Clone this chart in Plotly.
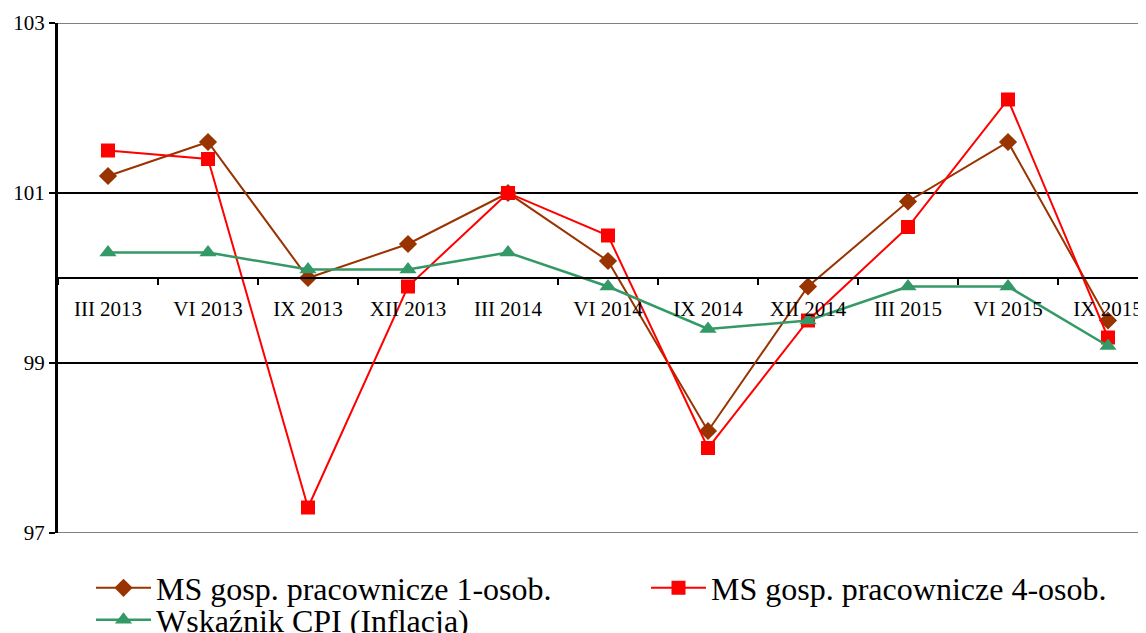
import plotly.graph_objects as go

categories = ["III 2013", "VI 2013", "IX 2013", "XII 2013", "III 2014", "VI 2014",
              "IX 2014", "XII 2014", "III 2015", "VI 2015", "IX 2015"]
ms_1os = [101.2, 101.6, 100.0, 100.4, 101.0, 100.2, 98.2, 99.9, 100.9, 101.6, 99.5]
ms_4os = [101.5, 101.4, 97.3, 99.9, 101.0, 100.5, 98.0, 99.5, 100.6, 102.1, 99.3]
cpi = [100.3, 100.3, 100.1, 100.1, 100.3, 99.9, 99.4, 99.5, 99.9, 99.9, 99.2]
y_ticks = [97, 99, 101, 103]

FONT = "Times New Roman, Liberation Serif, serif"
W, H = 1138, 625
IW = 55
LEG_FONT = dict(family=FONT, size=32, color="black")

fig = go.Figure()
fig.add_trace(go.Scatter(x=categories, y=ms_1os, mode="lines+markers",
                         name="MS gosp. pracownicze 1-osob.",
                         line=dict(color="#993300", width=2),
                         marker=dict(symbol="diamond", size=14, color="#993300"),
                         legend="legend"))
fig.add_trace(go.Scatter(x=categories, y=ms_4os, mode="lines+markers",
                         name="MS gosp. pracownicze 4-osob.",
                         line=dict(color="#FF0000", width=2),
                         marker=dict(symbol="square", size=14, color="#FF0000"),
                         legend="legend2"))
fig.add_trace(go.Scatter(x=categories, y=cpi, mode="lines+markers",
                         name="Wskaźnik CPI (Inflacja)",
                         line=dict(color="#339966", width=2.5),
                         marker=dict(symbol="triangle-up", size=15, color="#339966"),
                         legend="legend3"))

# horizontal reference lines
for yv, col in [(103, "#808080"), (101, "#000000"), (99, "#000000"), (97, "#808080")]:
    fig.add_shape(type="line", xref="paper", yref="y", x0=0, x1=1, y0=yv, y1=yv,
                  line=dict(color=col, width=2), layer="below")


def leg(xpx, ypx):
    return dict(orientation="h", xref="container", yref="container",
                x=(xpx - IW - 10) / W, y=1 - ypx / H, xanchor="left", yanchor="middle",
                itemwidth=IW, font=LEG_FONT, bgcolor="rgba(0,0,0,0)")


fig.update_layout(
    width=W, height=H,
    margin=dict(l=50, r=0, t=15, b=100, autoexpand=False),
    paper_bgcolor="white", plot_bgcolor="white",
    font=dict(family=FONT, color="black", size=21),
    xaxis=dict(
        type="category", range=[-0.5, 10.38], anchor="free", position=0.5,
        showline=True, linecolor="black", linewidth=2,
        ticks="outside", tickson="boundaries", ticklen=6, tickwidth=2, tickcolor="black",
        showgrid=False, zeroline=False, ticklabelstandoff=12,
        tickfont=dict(family=FONT, size=21, color="black"),
    ),
    yaxis=dict(
        range=[97, 103], tickvals=y_ticks, ticktext=[str(v) for v in y_ticks],
        showline=True, linecolor="black", linewidth=3,
        ticks="outside", ticklen=6, tickwidth=2, tickcolor="black",
        showgrid=False, zeroline=False,
        tickfont=dict(family=FONT, size=21, color="black"),
    ),
    legend=leg(148, 580),
    legend2=leg(703, 580),
    legend3=leg(148, 612),
    showlegend=True,
)

fig.write_html("out.html")
